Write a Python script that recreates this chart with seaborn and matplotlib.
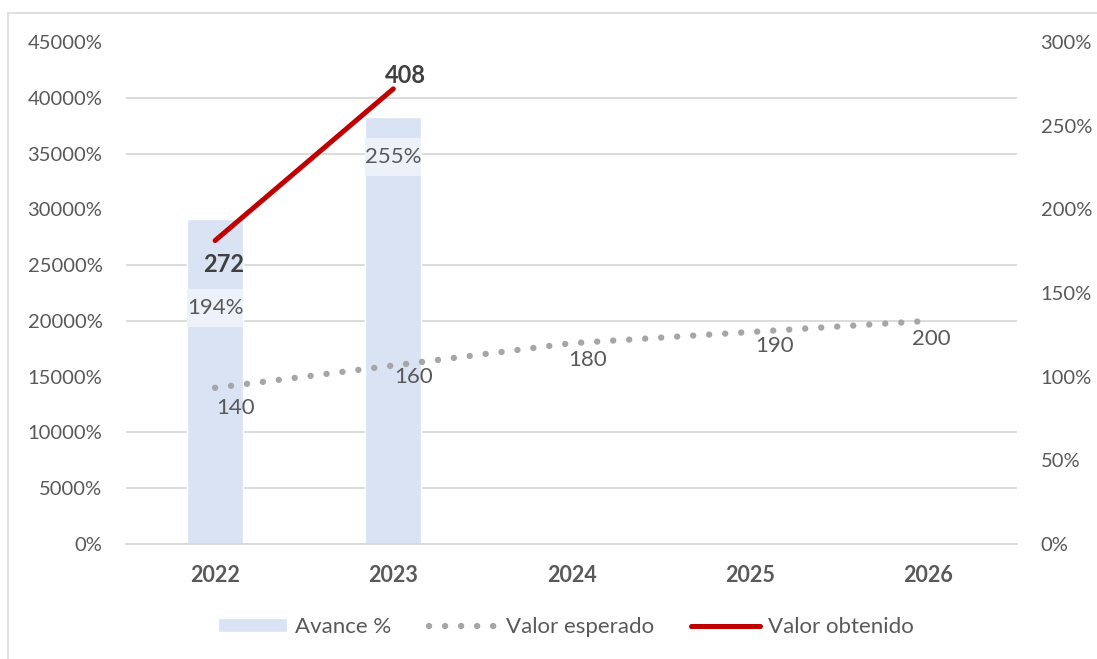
import numpy as np
import pandas as pd
import matplotlib
matplotlib.use("Agg")
import matplotlib.pyplot as plt
import seaborn as sns
from matplotlib.ticker import PercentFormatter
from matplotlib.patches import Rectangle

# datos del grafico
anios = ["2022", "2023", "2024", "2025", "2026"]
avance = [194, 255, np.nan, np.nan, np.nan]          # Avance % (eje derecho)
valor_esperado = [140, 160, 180, 190, 200]           # eje izquierdo
valor_obtenido = [272, 408]                          # solo 2022 y 2023

# colores
c_barra = "#dae3f3"
c_caja = "#edf2fa"
c_gris = "#a6a6a6"
c_rojo = "#c00000"
c_texto = "#595959"
c_grid = "#d9d9d9"

sns.set_style("white")
plt.rcParams["font.family"] = ["Lato", "DejaVu Sans"]
plt.rcParams["font.size"] = 14

fig = plt.figure(figsize=(10.97, 6.59), dpi=100)
W, H = 1097, 659
ax = fig.add_axes([126 / W, 1 - 544 / H, 891 / W, 502 / H])

# marco exterior
fig.patches.append(Rectangle((8 / W, -0.02), 1.1, 1 - 13 / H + 0.02, transform=fig.transFigure,
                             fill=False, ec=c_grid, lw=1.2))

df = pd.DataFrame({"anio": anios, "avance": avance})
sns.barplot(data=df, x="anio", y="avance", order=anios, color=c_barra, saturation=1,
            width=0.315, ax=ax, label="Avance %", zorder=2)

ax2 = ax.twinx()
ax.yaxis.tick_right()
ax2.yaxis.tick_left()

x_pos = np.arange(len(anios))
sns.lineplot(x=x_pos, y=valor_esperado, ax=ax2, color=c_gris, lw=4.6,
             linestyle=(0, (0.01, 2.5)), dash_capstyle="round", label="Valor esperado")
sns.lineplot(x=x_pos[:len(valor_obtenido)], y=valor_obtenido, ax=ax2, color=c_rojo, lw=3.6,
             solid_capstyle="round", label="Valor obtenido")

# eje derecho (barras)
ax.set_ylim(0, 300)
ax.set_yticks(np.arange(0, 301, 50))
ax.yaxis.set_major_formatter(PercentFormatter(100, decimals=0))
ax.set_yticks(np.linspace(0, 300, 10), minor=True)
ax.grid(False)
ax.grid(which="minor", axis="y", color=c_grid, lw=1.3)
ax.set_axisbelow(True)
ax.tick_params(axis="y", which="both", length=0, pad=17, labelcolor=c_texto, labelsize=14.5)
ax.tick_params(axis="x", length=0, pad=15, labelcolor=c_texto, labelsize=15.5)
for t in ax.get_xticklabels():
    t.set_fontweight("bold")
ax.set_xlabel("")
ax.set_ylabel("")

# eje izquierdo (lineas)
ax2.set_ylim(0, 450)
ax2.set_yticks(np.arange(0, 451, 50))
ax2.yaxis.set_major_formatter(PercentFormatter(1, decimals=0))
ax2.tick_params(axis="y", length=0, pad=17, labelcolor=c_texto, labelsize=14.5)
ax2.set_ylabel("")
ax2.grid(False)

for a in (ax, ax2):
    for s in ["top", "left", "right"]:
        a.spines[s].set_visible(False)
    a.spines["bottom"].set_color(c_grid)
    a.spines["bottom"].set_linewidth(1.3)
ax.set_xlim(-0.5, 4.5)

# etiquetas de las barras
caida = [53, 24]
alto_caja = 22.7
ancho = 0.315
for i, v in enumerate(avance):
    if np.isnan(v):
        continue
    yc = v - caida[i]
    ax.add_patch(Rectangle((i - ancho / 2, yc - alto_caja / 2), ancho, alto_caja,
                           fc=c_caja, ec="none", zorder=3))
    ax.text(i, yc, f"{v:.0f}%", ha="center", va="center", color=c_texto, fontsize=16, zorder=4)

# etiquetas valor esperado
desp_esp = [(20, -20), (20, -11), (16, -17), (25, -14), (3, -18)]
for i, v in enumerate(valor_esperado):
    ax2.annotate(f"{v}", (x_pos[i], v), xytext=desp_esp[i], textcoords="offset pixels",
                 ha="center", va="center", color=c_texto, fontsize=16)

# etiquetas valor obtenido
desp_obt = [(9, -24), (12, 13)]
for i, v in enumerate(valor_obtenido):
    ax2.annotate(f"{v}", (x_pos[i], v), xytext=desp_obt[i], textcoords="offset pixels",
                 ha="center", va="center", color="#404040", fontsize=17, fontweight="bold")

# leyenda
if ax.get_legend():
    ax.get_legend().remove()
if ax2.get_legend():
    ax2.get_legend().remove()
h1, l1 = ax.get_legend_handles_labels()
h2, l2 = ax2.get_legend_handles_labels()
fig.legend(h1 + h2, l1 + l2, loc="center", bbox_to_anchor=(566 / W, 1 - 627 / H), ncol=3,
           frameon=False, handlelength=3.1, handleheight=0.6, columnspacing=1.7,
           handletextpad=0.35, labelcolor=c_texto, fontsize=16)

fig.savefig("out.png", dpi=100)
